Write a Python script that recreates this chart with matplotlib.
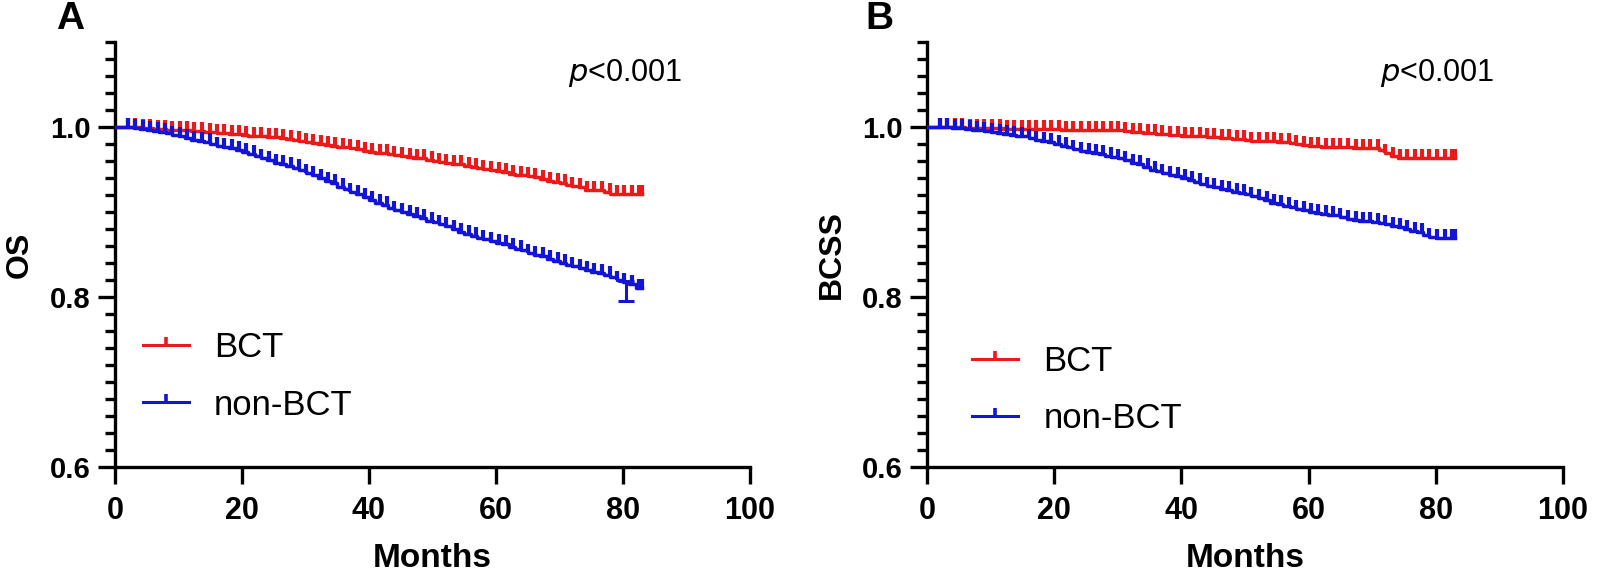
import matplotlib
matplotlib.use("Agg")
import matplotlib.pyplot as plt
from matplotlib.lines import Line2D
from matplotlib.ticker import MultipleLocator
import numpy as np

plt.rcParams['font.family'] = ['Liberation Sans', 'DejaVu Sans']

months = list(range(0, 84))

os_bct = [1.000, 1.000, 1.000, 1.000, 0.999, 0.999, 0.998, 0.998, 0.997, 0.997,
          0.996, 0.996, 0.995, 0.995, 0.994, 0.994, 0.993, 0.993, 0.992, 0.992,
          0.991, 0.990, 0.989, 0.989, 0.988, 0.988, 0.987, 0.986, 0.985, 0.984,
          0.982, 0.981, 0.980, 0.979, 0.978, 0.977, 0.976, 0.975, 0.974, 0.972,
          0.971, 0.970, 0.969, 0.968, 0.967, 0.966, 0.965, 0.964, 0.963, 0.961,
          0.960, 0.959, 0.958, 0.957, 0.956, 0.954, 0.953, 0.952, 0.951, 0.949,
          0.948, 0.947, 0.945, 0.944, 0.943, 0.942, 0.941, 0.939, 0.937, 0.935,
          0.934, 0.932, 0.931, 0.929, 0.926, 0.926, 0.926, 0.924, 0.921, 0.921,
          0.921, 0.921, 0.921, 0.921]

os_non = [1.000, 1.000, 1.000, 0.999, 0.998, 0.997, 0.995, 0.994, 0.993, 0.991,
          0.989, 0.987, 0.985, 0.984, 0.982, 0.980, 0.978, 0.977, 0.975, 0.973,
          0.971, 0.968, 0.966, 0.963, 0.961, 0.958, 0.956, 0.954, 0.952, 0.949,
          0.946, 0.943, 0.940, 0.937, 0.934, 0.930, 0.927, 0.924, 0.921, 0.918,
          0.914, 0.911, 0.908, 0.905, 0.902, 0.900, 0.898, 0.895, 0.893, 0.890,
          0.888, 0.886, 0.883, 0.880, 0.877, 0.874, 0.872, 0.870, 0.868, 0.866,
          0.864, 0.862, 0.859, 0.857, 0.855, 0.852, 0.850, 0.848, 0.845, 0.842,
          0.840, 0.838, 0.836, 0.834, 0.832, 0.830, 0.828, 0.826, 0.823, 0.820,
          0.818, 0.815, 0.811, 0.811]

bcss_bct = [1.000, 1.000, 1.000, 1.000, 1.000, 1.000, 0.999, 0.999, 0.999, 0.999,
            0.999, 0.999, 0.998, 0.998, 0.998, 0.998, 0.998, 0.998, 0.998, 0.998,
            0.998, 0.997, 0.997, 0.997, 0.997, 0.997, 0.997, 0.997, 0.997, 0.996,
            0.996, 0.995, 0.994, 0.994, 0.993, 0.993, 0.992, 0.992, 0.991, 0.991,
            0.990, 0.990, 0.989, 0.989, 0.988, 0.988, 0.987, 0.987, 0.986, 0.986,
            0.985, 0.984, 0.984, 0.983, 0.983, 0.982, 0.982, 0.981, 0.980, 0.979,
            0.978, 0.978, 0.977, 0.977, 0.976, 0.976, 0.976, 0.975, 0.975, 0.975,
            0.975, 0.973, 0.970, 0.966, 0.964, 0.964, 0.964, 0.964, 0.964, 0.964,
            0.964, 0.964, 0.964, 0.964]

bcss_non = [1.000, 1.000, 1.000, 1.000, 0.999, 0.999, 0.998, 0.997, 0.996, 0.995,
            0.994, 0.993, 0.992, 0.991, 0.990, 0.989, 0.987, 0.985, 0.984, 0.982,
            0.980, 0.978, 0.976, 0.974, 0.972, 0.971, 0.970, 0.968, 0.966, 0.965,
            0.963, 0.961, 0.958, 0.956, 0.953, 0.950, 0.948, 0.946, 0.944, 0.942,
            0.940, 0.938, 0.935, 0.933, 0.931, 0.929, 0.927, 0.926, 0.924, 0.922,
            0.921, 0.919, 0.917, 0.914, 0.911, 0.909, 0.907, 0.906, 0.904, 0.902,
            0.900, 0.899, 0.898, 0.897, 0.896, 0.894, 0.892, 0.891, 0.890, 0.889,
            0.888, 0.887, 0.886, 0.884, 0.882, 0.880, 0.878, 0.876, 0.873, 0.871,
            0.869, 0.869, 0.869, 0.869]

censor_months = [2.0, 3.2, 4.4, 5.5, 6.7, 7.9, 9.0, 10.2, 11.4, 12.5, 13.7, 14.9,
                 16.0, 17.2, 18.4, 19.5, 20.7, 21.9, 23.0, 24.2, 25.4, 26.5, 27.7,
                 28.9, 30.0, 31.2, 32.4, 33.5, 34.7, 35.9, 37.0, 38.2, 39.4, 40.5,
                 41.7, 42.9, 44.0, 45.2, 46.4, 47.5, 48.7, 49.9, 51.0, 52.2, 53.4,
                 54.5, 55.7, 56.9, 58.0, 59.2, 60.4, 61.5, 62.7, 63.9, 65.0, 66.2,
                 67.4, 68.5, 69.7, 70.9, 72.0, 73.2, 74.4, 75.5, 76.7, 77.9, 79.0,
                 80.2, 81.4, 82.5, 83.0]

# error bar shown on the non-BCT OS curve
os_err_month = [80.5]
os_err_center = [0.807]
os_err_half = [0.012]

x_ticks = [0, 20, 40, 60, 80, 100]
y_major = [0.6, 0.8, 1.0]
series_labels = ["BCT", "non-BCT"]
panel_letters = ["A", "B"]
y_titles = ["OS", "BCSS"]

RED = "#ea1a1a"
BLUE = "#1414d6"

fig = plt.figure(figsize=(16, 5.76), dpi=100)
ax_a = fig.add_axes([115/1600, 109/576, 635/1600, 425/576])
ax_b = fig.add_axes([927/1600, 109/576, 636/1600, 425/576])


def km(ax, vals, color):
    t = np.array(months)
    s = np.array(vals)
    ax.step(t, s, where="post", color=color, lw=2.5, zorder=3)
    c = np.array(censor_months)
    idx = np.searchsorted(t, c, side="right") - 1
    ax.plot(c, s[idx], linestyle="none", marker=2, ms=6.5, mew=3.0,
            color=color, zorder=3)


def style(ax, ytitle, letter, legend_xy, letter_x):
    ax.set_xlim(0, 100)
    ax.set_ylim(0.6, 1.1)
    ax.set_xticks(x_ticks)
    ax.set_yticks(y_major)
    ax.yaxis.set_minor_locator(MultipleLocator(0.02))
    ax.set_yticklabels([f"{v:.1f}" for v in y_major])
    for side in ("top", "right"):
        ax.spines[side].set_visible(False)
    for side in ("left", "bottom"):
        ax.spines[side].set_linewidth(2.4)
    ax.tick_params(axis="x", which="major", length=12, width=2.4,
                   direction="out", pad=9, labelsize=22)
    ax.tick_params(axis="y", which="major", length=12.5, width=2.4,
                   direction="out", pad=5, labelsize=21)
    ax.tick_params(axis="y", which="minor", length=7, width=2.4,
                   direction="out")
    for lab in ax.get_xticklabels() + ax.get_yticklabels():
        lab.set_fontweight("bold")
    ax.set_xlabel("Months", fontsize=24, fontweight="bold", labelpad=12)
    ax.set_ylabel(ytitle, fontsize=23, fontweight="bold")
    ax.yaxis.set_label_coords(-0.126, 0.5)
    ax.text(letter_x, 1.054, letter, transform=ax.transAxes, fontsize=28,
            fontweight="bold", ha="center", va="center")
    ax.text(0.713, 0.928, r"$\it{p}$" + "<0.001", transform=ax.transAxes,
            fontsize=22, ha="left", va="center")
    handles = [Line2D([], [], color=RED, lw=2.2, marker=2, ms=5.5, mew=2.6),
               Line2D([], [], color=BLUE, lw=2.2, marker=2, ms=5.5, mew=2.6)]
    ax.legend(handles, series_labels, loc="center left",
              bbox_to_anchor=legend_xy, frameon=False, fontsize=25,
              handlelength=1.33, handletextpad=0.72, labelspacing=0.7,
              borderpad=0, borderaxespad=0)


km(ax_a, os_bct, RED)
km(ax_a, os_non, BLUE)
ax_a.errorbar(os_err_month, os_err_center, yerr=os_err_half, fmt="none",
              ecolor=BLUE, elinewidth=2.2, capsize=6, capthick=2.2, zorder=4)
km(ax_b, bcss_bct, RED)
km(ax_b, bcss_non, BLUE)

style(ax_a, y_titles[0], panel_letters[0], (0.044, 0.213), -0.071)
style(ax_b, y_titles[1], panel_letters[1], (0.071, 0.181), -0.074)

fig.savefig("out.png", dpi=100)
